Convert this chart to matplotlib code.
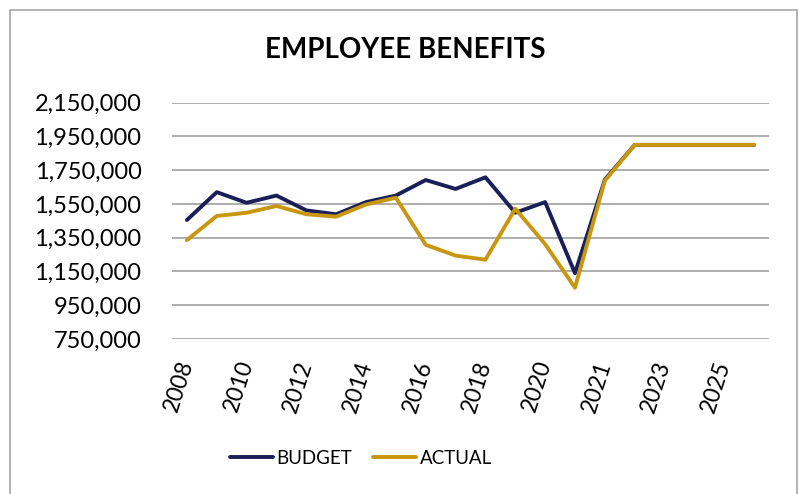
import matplotlib
matplotlib.use('Agg')
import matplotlib.pyplot as plt
from matplotlib.patches import Rectangle
from matplotlib.ticker import FuncFormatter
import numpy as np

plt.rcParams['font.family'] = ['Lato', 'DejaVu Sans']

years = ['2008', '2009', '2010', '2011', '2012', '2013', '2014', '2015',
         '2016', '2017', '2018', '2019', '2020', '2020', '2021', '2022',
         '2023', '2024', '2025', '2026']

budget = [1455000, 1620000, 1557000, 1600000, 1512000, 1489000, 1561000,
          1600000, 1692000, 1639000, 1708000, 1498000, 1561000, 1140000,
          1694000, 1900000, 1900000, 1900000, 1900000, 1900000]

actual = [1336000, 1479000, 1498000, 1538000, 1489000, 1475000, 1547000,
          1587000, 1308000, 1244000, 1220000, 1522000, 1312000, 1054000,
          1688000, 1900000, 1900000, 1900000, 1900000, 1900000]

yticks = np.arange(750000, 2150001, 200000)

navy = '#1b1f57'
gold = '#c8960f'

fig = plt.figure(figsize=(8.03, 4.94), dpi=100)
fig.patches.append(Rectangle((10 / 803, -0.1), 787 / 803, 1.1 - 10 / 494,
                             transform=fig.transFigure, fill=False,
                             edgecolor='#a6a6a6', linewidth=1.2))

ax = fig.add_axes([172 / 803, 1 - 339 / 494, 597 / 803, (339 - 102.7) / 494])
x = np.arange(len(years))
ax.plot(x, budget, color=navy, lw=2.8, label='BUDGET', solid_capstyle='round')
ax.plot(x, actual, color=gold, lw=2.8, label='ACTUAL', solid_capstyle='round')

ax.set_xlim(-0.5, len(years) - 0.5)
ax.set_ylim(750000, 2150000)
ax.set_yticks(yticks)
ax.yaxis.set_major_formatter(FuncFormatter(lambda v, p: f'{int(v):,}'))
ax.grid(axis='y', color='#a0a0a0', lw=1.2)
ax.set_axisbelow(True)
for s in ax.spines.values():
    s.set_visible(False)

ax.set_xticks(x[::2])
ax.set_xticklabels(years[::2], rotation=72, ha='right', va='center',
                   rotation_mode='anchor', fontsize=16.5)
ax.tick_params(axis='x', length=0, pad=16)
ax.tick_params(axis='y', length=0, pad=22, labelsize=17)

fig.text(0.505, 1 - 50 / 494, 'EMPLOYEE BENEFITS', ha='center', va='center',
         fontsize=20, fontweight='bold')

fig.legend(loc='center', bbox_to_anchor=(361 / 803, 1 - 458 / 494), ncol=2,
           frameon=False, fontsize=13.5, handlelength=2.3, handletextpad=0.2,
           columnspacing=1.1)

fig.savefig('out.png', dpi=100)
